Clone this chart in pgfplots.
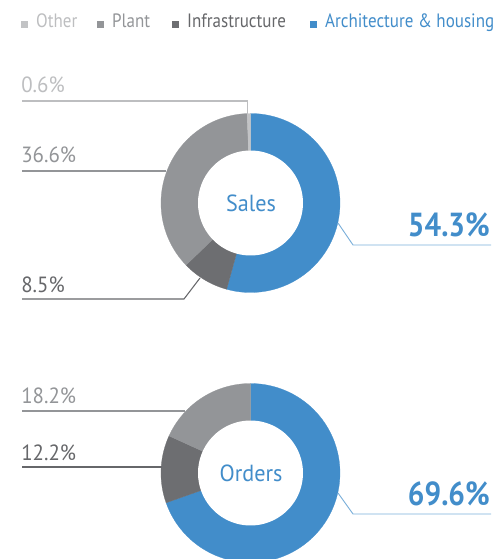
\documentclass[border=0pt]{standalone}
\usepackage{fontspec}
\setmainfont{PT Sans}
\newfontfamily\legfont[FakeStretch=0.88]{PT Sans}
\newfontfamily\labfont[FakeStretch=0.95]{PT Sans}
\newfontfamily\bigfont[FakeStretch=0.88]{PT Sans}
\usepackage{pgfplots}
\pgfplotsset{compat=1.18}
\definecolor{cblue}{HTML}{428DCA}
\definecolor{cother}{HTML}{C2C3C5}
\definecolor{cplant}{HTML}{939598}
\definecolor{cinfra}{HTML}{6D6E71}
\definecolor{tother}{HTML}{BDBEC0}
\definecolor{tplant}{HTML}{939598}
\definecolor{tinfra}{HTML}{66676A}
% slice: cx, cy, start percent, value percent, colour
\newcommand\slice[5]{%
  \addplot[fill=#5, draw=#5, line width=0.2pt, samples=80, variable=\t,
    domain={90-3.6*(#3+#4)}:{90-3.6*(#3)}]
    ({#1+89.5*cos(\t)},{#2-89.5*sin(\t)}) -- (axis cs:#1,#2) -- cycle;}
\newcommand\hole[2]{%
  \addplot[fill=white, draw=none, samples=100, variable=\t, domain=0:360]
    ({#1+52.5*cos(\t)},{#2-52.5*sin(\t)}) -- cycle;}
\begin{document}
\begin{tikzpicture}
\begin{axis}[name=ax, x=0.75pt, y=0.75pt, xmin=0, xmax=493, ymin=0, ymax=559,
  y dir=reverse, hide axis, clip=true]
% Sales: Architecture & housing, Infrastructure, Plant, Other
\slice{250.5}{203}{0}{54.3}{cblue}
\slice{250.5}{203}{54.3}{8.5}{cinfra}
\slice{250.5}{203}{62.8}{36.6}{cplant}
\slice{250.5}{203}{99.4}{0.6}{cother}
\hole{250.5}{203}
% Orders
\slice{250.5}{473}{0}{69.6}{cblue}
\slice{250.5}{473}{69.6}{12.2}{cinfra}
\slice{250.5}{473}{81.8}{18.2}{cplant}
\hole{250.5}{473}
% leader lines
\draw[tother, line width=0.8pt] (axis cs:22,101) -- (axis cs:247.7,101) -- (axis cs:247.7,114);
\draw[tplant, line width=0.8pt] (axis cs:22,171) -- (axis cs:166,171);
\draw[tinfra, line width=0.8pt] (axis cs:22,299) -- (axis cs:184,299) -- (axis cs:200,278);
\draw[cblue!70, line width=0.7pt] (axis cs:491,245) -- (axis cs:353,245) -- (axis cs:338,223);
\draw[tplant, line width=0.8pt] (axis cs:22,411) -- (axis cs:185,411);
\draw[tinfra, line width=0.8pt] (axis cs:22,467) -- (axis cs:162,467);
\draw[cblue!70, line width=0.7pt] (axis cs:491,514) -- (axis cs:353,514) -- (axis cs:338,493);
% labels
\tikzset{lab/.style={inner sep=0pt, anchor=base west, font=\labfont\fontsize{16.5pt}{19pt}\selectfont}}
\node[lab, text=tother] at (axis cs:21,93) {0.6\%};
\node[lab, text=tplant] at (axis cs:21,163) {36.6\%};
\node[lab, text=tinfra] at (axis cs:21,292) {8.5\%};
\node[lab, text=tplant] at (axis cs:21,403) {18.2\%};
\node[lab, text=tinfra] at (axis cs:21,460) {12.2\%};
\tikzset{big/.style={inner sep=0pt, anchor=base east, text=cblue, font=\bigfont\fontsize{25pt}{29pt}\selectfont\bfseries}}
\node[big] at (axis cs:490,237) {54.3\%};
\node[big] at (axis cs:490,505) {69.6\%};
\tikzset{mid/.style={inner sep=0pt, anchor=base, text=cblue, font=\labfont\fontsize{17.5pt}{20pt}\selectfont}}
\node[mid] at (axis cs:251,212) {Sales};
\node[mid] at (axis cs:251,481) {Orders};
% legend
\tikzset{leg/.style={inner sep=0pt, anchor=base west, font=\legfont\fontsize{14.5pt}{17pt}\selectfont}}
\node[leg, text=tother] at (axis cs:21,28) {\textcolor{cother}{\rule{5.2pt}{5.2pt}}\hspace{6pt}Other};
\node[leg, text=tplant] at (axis cs:97,28) {\textcolor{cplant}{\rule{5.2pt}{5.2pt}}\hspace{6pt}Plant};
\node[leg, text=tinfra] at (axis cs:172,28) {\textcolor{cinfra}{\rule{5.2pt}{5.2pt}}\hspace{6pt}Infrastructure};
\node[leg, text=cblue] at (axis cs:310,28) {\textcolor{cblue}{\rule{5.2pt}{5.2pt}}\hspace{6pt}Architecture \& housing};
\end{axis}
\pgfresetboundingbox
\path[use as bounding box] (ax.south west) rectangle (ax.north east);
\end{tikzpicture}
\end{document}
